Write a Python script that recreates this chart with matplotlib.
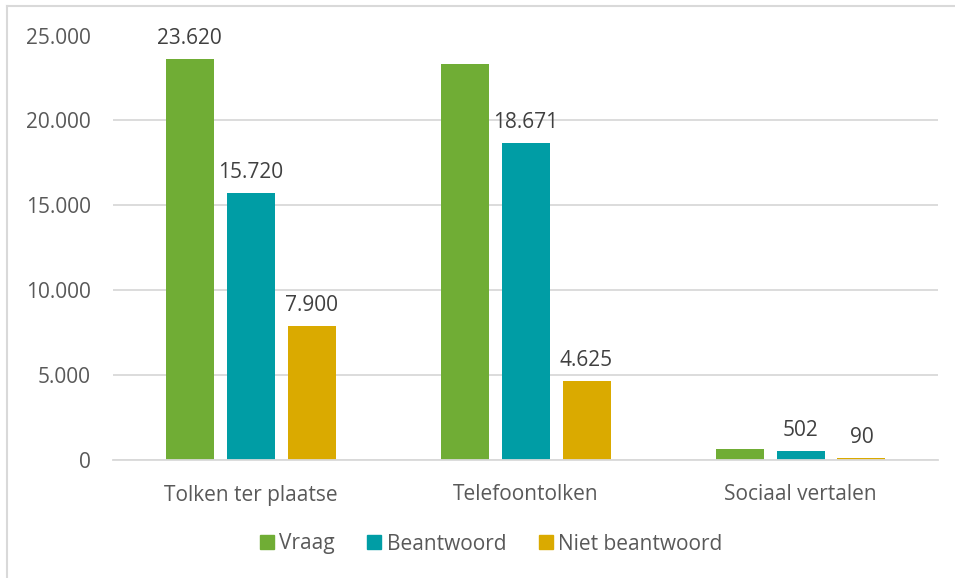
import matplotlib
matplotlib.use("Agg")
import matplotlib.pyplot as plt
from matplotlib.lines import Line2D
import numpy as np

categories = ["Tolken ter plaatse", "Telefoontolken", "Sociaal vertalen"]
series_names = ["Vraag", "Beantwoord", "Niet beantwoord"]
vraag = [23620, 23296, 592]
beantwoord = [15720, 18671, 502]
niet_beantwoord = [7900, 4625, 90]
# which values carry a data label (None = no label shown)
vraag_labels = ["23.620", None, None]
beantwoord_labels = ["15.720", "18.671", "502"]
niet_labels = ["7.900", "4.625", "90"]
yticks = [0, 5000, 10000, 15000, 20000, 25000]
ytick_labels = ["0", "5.000", "10.000", "15.000", "20.000", "25.000"]

colors = ["#70AD35", "#009DA5", "#DAAA00"]
text_color = "#595959"
grid_color = "#D9D9D9"

plt.rcParams['font.family'] = ['Open Sans', 'DejaVu Sans']
FS = 15

fig = plt.figure(figsize=(9.55, 5.78), dpi=100)
ax = fig.add_axes([113/955, 1-459.5/578, (938-113)/955, (459.5-35.5)/578])

x = np.arange(len(categories))
width = 48/275
pitch = 61/275
all_series = [vraag, beantwoord, niet_beantwoord]
all_labels = [vraag_labels, beantwoord_labels, niet_labels]
for i, (vals, labs) in enumerate(zip(all_series, all_labels)):
    pos = x + (i-1)*pitch
    ax.bar(pos, vals, width, color=colors[i], label=series_names[i], zorder=3)
    for p, v, lab in zip(pos, vals, labs):
        if lab is not None:
            ax.annotate(lab, (p, v), xytext=(0, 7), textcoords="offset points",
                        ha="center", va="bottom", fontsize=FS, color="#404040")

ax.set_xlim(-0.5, 2.5)
ax.set_ylim(0, 25000)
ax.set_yticks(yticks)
ax.set_yticklabels(ytick_labels)
ax.set_xticks(x)
ax.set_xticklabels(categories)
ax.tick_params(axis='both', length=0, labelsize=FS, colors=text_color)
ax.tick_params(axis='y', pad=16)
ax.tick_params(axis='x', pad=18)
ax.yaxis.grid(True, color=grid_color, linewidth=1.3, zorder=0)
for s in ["top", "right", "left"]:
    ax.spines[s].set_visible(False)
ax.spines["bottom"].set_color(grid_color)
ax.spines["bottom"].set_linewidth(1.3)
ax.spines["bottom"].set_zorder(4)

handles = [Line2D([], [], marker='s', linestyle='none', markersize=10,
                  markerfacecolor=c, markeredgecolor=c) for c in colors]
fig.legend(handles, series_names, loc="center", bbox_to_anchor=(0.5 + 12/955, 1-544/578),
           ncol=3, frameon=False, fontsize=FS, labelcolor=text_color,
           handletextpad=0.1, columnspacing=1.4, handlelength=1.0)

# chart border (top & left visible)
fig.add_artist(Line2D([7/955, 1.0], [1-6/578, 1-6/578], color=grid_color, linewidth=1.5, transform=fig.transFigure))
fig.add_artist(Line2D([7/955, 7/955], [0, 1-6/578], color=grid_color, linewidth=1.5, transform=fig.transFigure))

fig.savefig("out.png", dpi=100)
